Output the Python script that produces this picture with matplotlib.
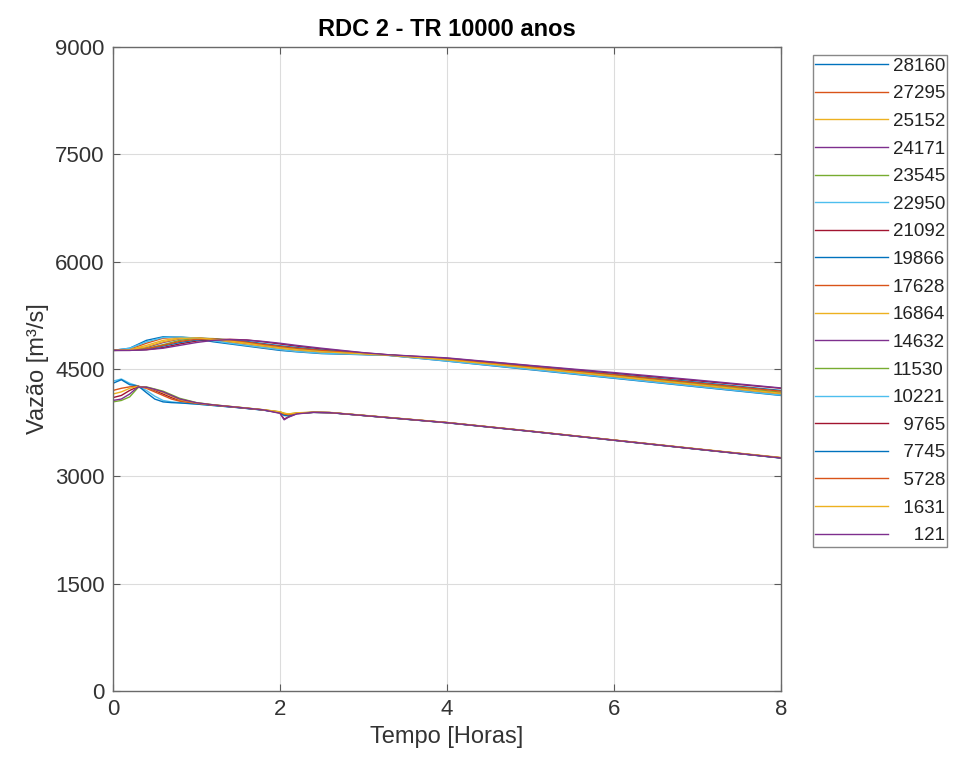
import numpy as np
import matplotlib.pyplot as plt

plt.rcParams['font.family'] = ['Liberation Sans', 'DejaVu Sans']

# legend labels, in plot order
labels = ["28160", "27295", "25152", "24171", "23545", "22950", "21092", "19866",
          "17628", "16864", "14632", "11530", "10221", "9765", "7745", "5728",
          "1631", "121"]

# MATLAB default colour order
matlab_colors = ["#0072BD", "#D95319", "#EDB120", "#7E2F8E", "#77AC30", "#4DBEEE", "#A2142F"]

# time grid for the upper group of hydrographs (hours)
t_up = [0, 0.2, 0.4, 0.6, 0.8, 1.0, 1.2, 1.4, 1.6, 1.8, 2.0, 2.2, 2.5, 3.0, 3.3,
        4.0, 5.0, 6.0, 7.0, 8.0]
q_up = [
    [4760, 4790, 4900, 4950, 4945, 4920, 4880, 4850, 4820, 4790, 4760, 4740, 4715, 4700, 4690, 4610, 4490, 4370, 4250, 4130],
    [4760, 4775, 4860, 4930, 4945, 4930, 4900, 4870, 4835, 4800, 4775, 4750, 4725, 4705, 4692, 4620, 4500, 4385, 4265, 4145],
    [4760, 4770, 4830, 4900, 4935, 4935, 4910, 4880, 4850, 4815, 4785, 4760, 4735, 4708, 4693, 4625, 4510, 4395, 4275, 4155],
    [4760, 4765, 4800, 4870, 4920, 4935, 4920, 4895, 4865, 4830, 4800, 4775, 4745, 4712, 4694, 4630, 4520, 4405, 4285, 4165],
    [4760, 4762, 4785, 4840, 4900, 4930, 4925, 4905, 4875, 4845, 4810, 4785, 4755, 4715, 4695, 4632, 4525, 4410, 4295, 4175],
    [4760, 4790, 4880, 4940, 4950, 4930, 4895, 4860, 4830, 4800, 4770, 4745, 4720, 4702, 4690, 4612, 4495, 4375, 4255, 4135],
    [4760, 4760, 4770, 4800, 4850, 4890, 4910, 4915, 4905, 4880, 4850, 4820, 4780, 4725, 4698, 4650, 4545, 4440, 4335, 4230],
    [4760, 4761, 4775, 4820, 4870, 4905, 4915, 4905, 4885, 4855, 4825, 4800, 4765, 4718, 4696, 4640, 4535, 4425, 4315, 4200],
    [4760, 4763, 4780, 4830, 4885, 4915, 4920, 4900, 4875, 4845, 4815, 4790, 4760, 4716, 4695, 4636, 4530, 4420, 4305, 4190],
    [4760, 4768, 4810, 4880, 4925, 4935, 4915, 4890, 4860, 4825, 4795, 4770, 4742, 4710, 4694, 4628, 4515, 4400, 4280, 4160],
    [4760, 4760, 4768, 4790, 4830, 4870, 4900, 4910, 4905, 4885, 4860, 4830, 4790, 4728, 4699, 4655, 4550, 4450, 4345, 4235],
]

# time grid for the lower group
t_low = [0, 0.1, 0.2, 0.3, 0.4, 0.5, 0.6, 0.7, 0.8, 1.0, 1.2, 1.5, 1.8, 2.0, 2.05,
         2.1, 2.2, 2.4, 2.6, 3.0, 4.0, 5.0, 6.0, 7.0, 8.0]
q_low = [
    [4040, 4060, 4110, 4240, 4250, 4220, 4190, 4140, 4090, 4030, 4000, 3965, 3930, 3900, 3880, 3870, 3885, 3895, 3890, 3850, 3750, 3630, 3505, 3380, 3258],
    [4330, 4360, 4300, 4260, 4200, 4120, 4060, 4040, 4030, 4010, 3990, 3960, 3925, 3895, 3860, 3850, 3880, 3895, 3890, 3850, 3749, 3629, 3504, 3379, 3256],
    [4100, 4130, 4200, 4255, 4240, 4200, 4150, 4100, 4060, 4020, 3995, 3962, 3928, 3885, 3800, 3830, 3875, 3895, 3890, 3851, 3751, 3631, 3506, 3381, 3259],
    [4300, 4350, 4280, 4265, 4170, 4080, 4040, 4030, 4025, 4010, 3990, 3960, 3925, 3893, 3850, 3845, 3878, 3893, 3889, 3849, 3748, 3628, 3503, 3378, 3255],
    [4200, 4230, 4250, 4260, 4230, 4180, 4130, 4080, 4050, 4020, 3995, 3963, 3928, 3898, 3870, 3860, 3882, 3894, 3890, 3850, 3750, 3630, 3505, 3380, 3258],
    [4150, 4180, 4230, 4258, 4240, 4210, 4170, 4120, 4070, 4025, 3998, 3966, 3931, 3902, 3882, 3872, 3887, 3897, 3893, 3853, 3753, 3633, 3508, 3384, 3263],
    [4060, 4080, 4150, 4250, 4245, 4215, 4180, 4130, 4080, 4028, 3998, 3964, 3929, 3880, 3790, 3825, 3872, 3894, 3890, 3850, 3750, 3630, 3505, 3380, 3257],
]

fig = plt.figure(figsize=(9.55, 7.68), dpi=100)
ax = fig.add_axes([0.1183, 0.1003, 0.6995, 0.8385])

series = [(t_up, q) for q in q_up] + [(t_low, q) for q in q_low]
width = max(len(s) for s in labels)
for i, ((t, q), lab) in enumerate(zip(series, labels)):
    # right-align the legend numbers with figure spaces
    ax.plot(t, q, color=matlab_colors[i % 7], lw=1.0,
            label="\u2007" * (width - len(lab)) + lab)

ax.set_xlim(0, 8)
ax.set_ylim(0, 9000)
ax.set_xticks([0, 2, 4, 6, 8])
ax.set_yticks([0, 1500, 3000, 4500, 6000, 7500, 9000])
ax.grid(True, color="#dcdcdc", lw=0.8)
ax.set_axisbelow(True)
ax.tick_params(direction="in", top=True, right=True, length=5, width=0.8,
               color="#5a5a5a", labelsize=16, labelcolor="#333333", pad=6)
for sp in ax.spines.values():
    sp.set_color("#6a6a6a")
    sp.set_linewidth(1.0)

ax.set_title("RDC 2 - TR 10000 anos", fontsize=17, fontweight="bold", pad=8)
ax.set_xlabel("Tempo [Horas]", fontsize=17, color="#333333")
ax.set_ylabel("Vazão [m³/s]", fontsize=17, color="#333333")

leg = ax.legend(loc="upper left", bbox_to_anchor=(0.851, 0.928),
                bbox_transform=fig.transFigure, borderaxespad=0,
                fontsize=13.5, frameon=True, fancybox=False,
                edgecolor="#6a6a6a", handlelength=3.9, labelspacing=0.56,
                borderpad=0.12, handletextpad=0.25)
leg.get_frame().set_linewidth(1.0)
for txt in leg.get_texts():
    txt.set_color("#222222")

fig.savefig("out.png", dpi=100)
